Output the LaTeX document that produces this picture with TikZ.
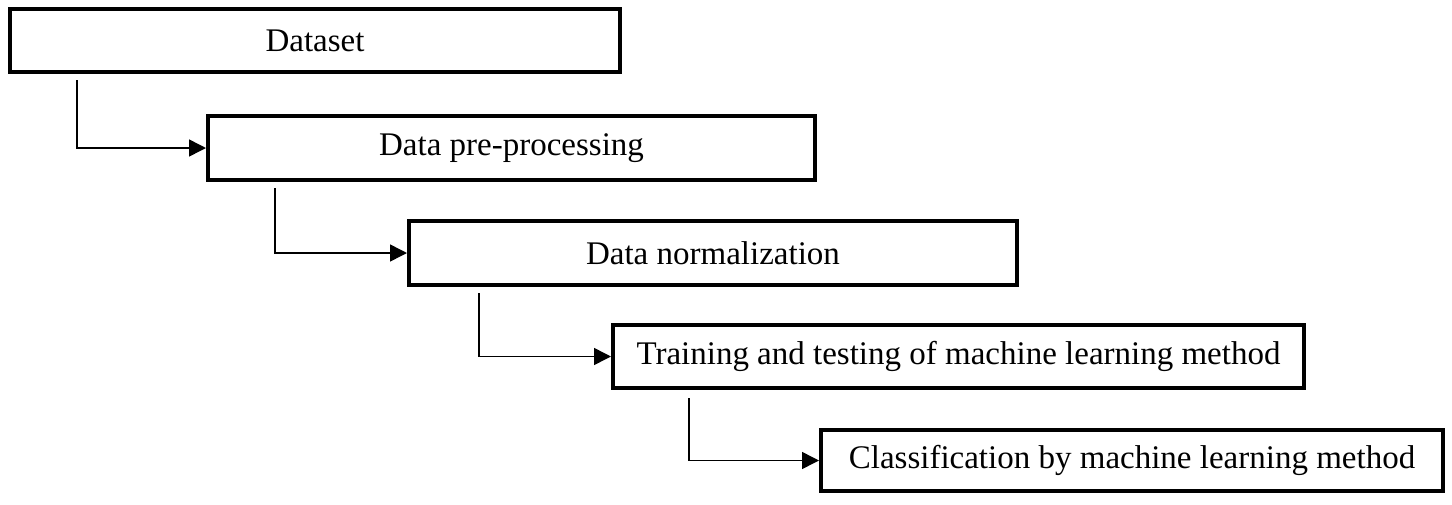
\documentclass[tikz,border=0pt]{standalone}
\usepackage{fontspec}
\setmainfont{Liberation Serif}
\usetikzlibrary{arrows.meta}

\begin{document}
\begin{tikzpicture}[x=0.5pt,y=-0.5pt,
  stage/.style={draw,line width=2pt,minimum height=32pt,inner sep=0pt,
    font=\fontsize{16.5}{19}\selectfont},
  flow/.style={line width=0.75pt,-{Triangle[length=8.5pt,width=8.5pt]}}]
\useasboundingbox (0,0) rectangle (1452,504);

%stages
\node[stage,minimum width=305pt,minimum height=31.5pt] (dataset) at (315,40.5) {Dataset};
\node[stage,minimum width=303.5pt] (prep) at (511.5,148) {Data pre-processing};
\node[stage,minimum width=304pt] (norm) at (713,253) {Data normalization};
\node[stage,minimum width=345.5pt,minimum height=31.5pt] (train) at (958.5,356.5) {Training and testing of machine learning method};
\node[stage,minimum width=311pt,minimum height=30.5pt] (cls) at (1132,460.5) {Classification by machine learning method};

%connectors
\coordinate (s1) at (77,80);
\coordinate (s2) at (275,188);
\coordinate (s3) at (479,293);
\coordinate (s4) at (689,398);
\draw[flow] (s1) |- (prep.west);
\draw[flow] (s2) |- (norm.west);
\draw[flow] (s3) |- (train.west);
\draw[flow] (s4) |- (cls.west);

\end{tikzpicture}
\end{document}
